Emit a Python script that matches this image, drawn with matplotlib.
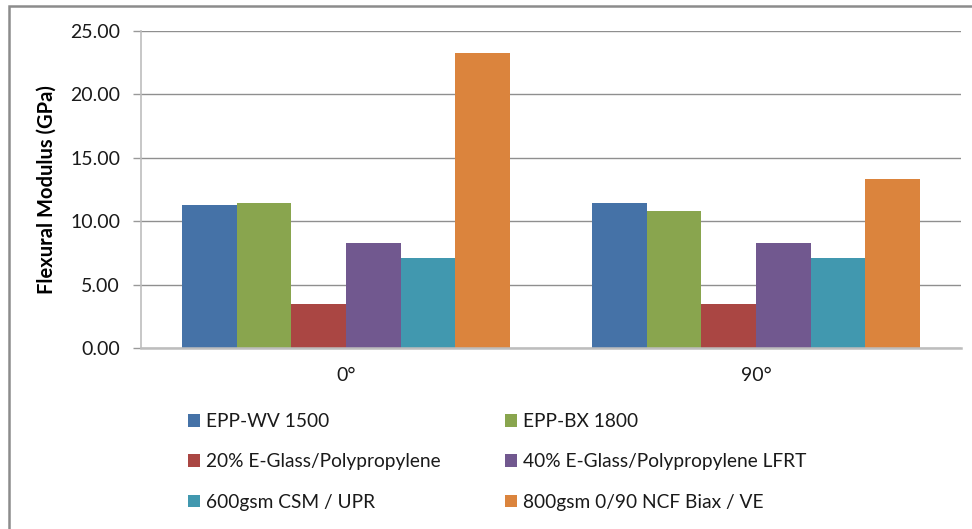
import numpy as np
import matplotlib
matplotlib.use("Agg")
import matplotlib.pyplot as plt
from matplotlib.patches import Rectangle, Patch

plt.rcParams['font.family'] = ['Lato', 'DejaVu Sans']

# datos
grupos = ['0°', '90°']
materiales = ['EPP-WV 1500', 'EPP-BX 1800', '20% E-Glass/Polypropylene',
              '40% E-Glass/Polypropylene LFRT', '600gsm CSM / UPR',
              '800gsm 0/90 NCF Biax / VE']
valores_0 = [11.24, 11.47, 3.45, 8.32, 7.06, 23.26]
valores_90 = [11.40, 10.81, 3.45, 8.32, 7.06, 13.31]
colores = ['#4572A7', '#89A54E', '#AA4643', '#71588F', '#4198AF', '#DB843D']
yticks = [0, 5, 10, 15, 20, 25]

W, H = 972, 529
fig = plt.figure(figsize=(W / 100, H / 100), dpi=100)
ax = fig.add_axes([141 / W, 1 - 348 / H, 820 / W, 317 / H])

x = np.arange(len(grupos))
ancho = 1 / 7.5
for i, mat in enumerate(materiales):
    offs = (i - 2.5) * ancho
    ax.bar(x + offs, [valores_0[i], valores_90[i]], width=ancho,
           color=colores[i], linewidth=0, zorder=3, label=mat)

ax.set_xlim(-0.5, 1.5)
ax.set_ylim(0, 25)
ax.set_yticks(yticks)
ax.set_yticklabels(['%.2f' % v for v in yticks], fontsize=14, color='#1a1a1a')
ax.set_xticks(x)
ax.set_xticklabels(grupos, fontsize=14, color='#1a1a1a')
ax.tick_params(axis='y', length=6, width=1, color='#999999', pad=9)
ax.tick_params(axis='x', length=0, pad=14)
ax.grid(axis='y', color='#8f8f8f', linewidth=1, zorder=0)
for s in ['top', 'right']:
    ax.spines[s].set_visible(False)
ax.spines['left'].set_color('#bdbdbd')
ax.spines['left'].set_linewidth(1.2)
ax.spines['bottom'].set_color('#bdbdbd')
ax.spines['bottom'].set_linewidth(1.8)
ax.spines['bottom'].set_zorder(4)

fig.text(47 / W, 1 - 190 / H, 'Flexural Modulus (GPa)', rotation=90,
         ha='center', va='center', fontsize=14.5, fontweight='bold')

# leyenda en dos columnas
handles = [Patch(facecolor=c, edgecolor='none') for c in colores]
for col, xpix in enumerate([188, 505]):
    idx = [col, col + 2, col + 4]
    leg = fig.legend([handles[j] for j in idx], [materiales[j] for j in idx],
                     loc='upper left', bbox_to_anchor=(xpix / W, 1 - 413 / H),
                     frameon=False, fontsize=13.8, borderpad=0, borderaxespad=0,
                     handlelength=0.63, handleheight=0.63, handletextpad=0.3,
                     labelspacing=1.22)
    for t in leg.get_texts():
        t.set_color('#1a1a1a')

# borde del area del grafico
fig.patches.append(Rectangle((9 / W, -0.1), 1.2, 1 - 5.7 / H + 0.1,
                             transform=fig.transFigure, fill=False,
                             edgecolor='#8c8c8c', linewidth=1.8))

fig.savefig('out.png', dpi=100)
